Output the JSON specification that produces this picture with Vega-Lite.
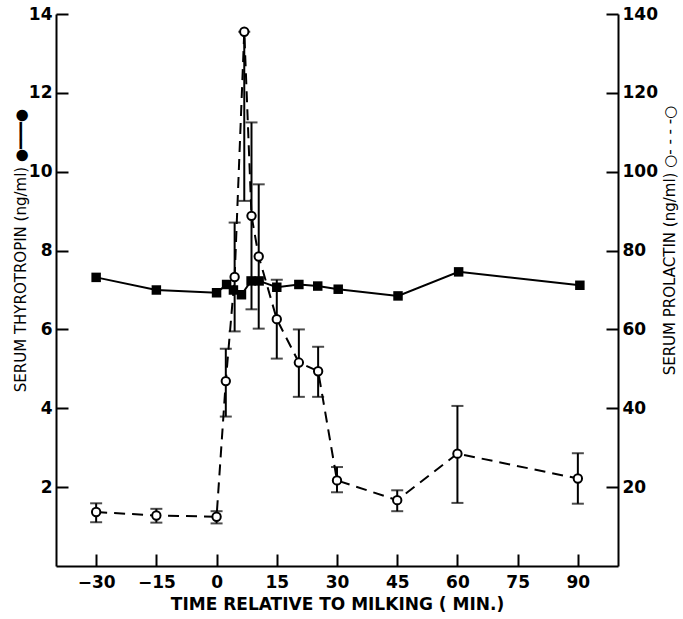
{
  "$schema": "https://vega.github.io/schema/vega-lite/v6.json",
  "width": 562,
  "height": 552,
  "autosize": {"type": "none"},
  "padding": {"left": 56, "top": 14, "right": 65, "bottom": 53},
  "background": "white",
  "config": {
    "view": {"stroke": null},
    "font": "DejaVu Sans",
    "axis": {
      "grid": false,
      "domainColor": "black",
      "domainWidth": 2,
      "tickColor": "black",
      "tickWidth": 2,
      "tickSize": -12,
      "labelPadding": 16,
      "labelFont": "DejaVu Sans",
      "labelFontSize": 17,
      "labelFontWeight": "bold",
      "labelColor": "black",
      "titleFont": "DejaVu Sans",
      "titleColor": "black",
      "titleFontWeight": "normal"
    }
  },
  "datasets": {
    "tsh": [
      {"t": -30, "tsh": 7.32},
      {"t": -15, "tsh": 7.0},
      {"t": 0, "tsh": 6.93},
      {"t": 2.5, "tsh": 7.14},
      {"t": 4.2, "tsh": 7.0},
      {"t": 6.2, "tsh": 6.88},
      {"t": 8.6, "tsh": 7.23},
      {"t": 10.6, "tsh": 7.23},
      {"t": 15, "tsh": 7.07},
      {"t": 20.5, "tsh": 7.14},
      {"t": 25.2, "tsh": 7.1},
      {"t": 30.3, "tsh": 7.02},
      {"t": 45.2, "tsh": 6.85},
      {"t": 60.3, "tsh": 7.46},
      {"t": 90.5, "tsh": 7.12}
    ],
    "prl": [
      {"t": -30, "prl": 13.7, "lo": 11.1, "hi": 15.9},
      {"t": -15, "prl": 12.8, "lo": 11.0, "hi": 14.5},
      {"t": 0, "prl": 12.5, "lo": 10.8, "hi": 13.9},
      {"t": 2.3, "prl": 46.9, "lo": 37.9, "hi": 55.1},
      {"t": 4.5, "prl": 73.3, "lo": 59.5, "hi": 87.1},
      {"t": 6.9, "prl": 135.5, "lo": 92.6, "hi": 135.5},
      {"t": 8.7, "prl": 88.8, "lo": 65.1, "hi": 112.5},
      {"t": 10.5, "prl": 78.5, "lo": 60.2, "hi": 96.8},
      {"t": 15, "prl": 62.6, "lo": 52.6, "hi": 72.6},
      {"t": 20.5, "prl": 51.6, "lo": 42.9, "hi": 60.0},
      {"t": 25.3, "prl": 49.4, "lo": 42.9, "hi": 55.6},
      {"t": 30, "prl": 21.7, "lo": 18.7, "hi": 25.1},
      {"t": 45, "prl": 16.7, "lo": 13.9, "hi": 19.2},
      {"t": 60, "prl": 28.5, "lo": 16.0, "hi": 40.6},
      {"t": 90, "prl": 22.2, "lo": 15.8, "hi": 28.6}
    ]
  },
  "layer": [
    {
      "data": {"name": "tsh"},
      "encoding": {
        "x": {
          "field": "t",
          "type": "quantitative",
          "scale": {"domain": [-40, 100], "nice": false, "zero": false},
          "axis": {
            "values": [-30, -15, 0, 15, 30, 45, 60, 75, 90],
            "title": "TIME RELATIVE TO MILKING ( MIN.)",
            "labelPadding": 20,
            "titleFontSize": 17,
            "titleFontWeight": "bold",
            "titlePadding": 6
          }
        },
        "y": {
          "field": "tsh",
          "type": "quantitative",
          "scale": {"domain": [0, 14], "nice": false},
          "axis": {
            "orient": "left",
            "values": [2, 4, 6, 8, 10, 12, 14],
            "title": "SERUM THYROTROPIN (ng/ml)    ●━━━●",
            "titleFontSize": 15,
            "titlePadding": 0,
            "titleY": 236
          }
        }
      },
      "layer": [
        {"mark": {"type": "line", "color": "black", "strokeWidth": 2}},
        {"mark": {"type": "point", "shape": "square", "filled": true, "color": "black", "size": 90, "opacity": 1}}
      ]
    },
    {
      "data": {"name": "prl"},
      "encoding": {
        "x": {"field": "t", "type": "quantitative"}
      },
      "layer": [
        {
          "mark": {"type": "line", "color": "black", "strokeWidth": 2, "strokeDash": [11, 7]},
          "encoding": {
            "y": {
              "field": "prl",
              "type": "quantitative",
              "scale": {"domain": [0, 140], "nice": false},
              "axis": {
                "orient": "right",
                "values": [20, 40, 60, 80, 100, 120, 140],
                "title": "SERUM PROLACTIN (ng/ml)    ○- - - -○",
                "titleFontSize": 15,
                "titleAngle": 270,
                "titlePadding": 20,
                "titleY": 226
              }
            }
          }
        },
        {
          "mark": {"type": "errorbar", "color": "black", "thickness": 2, "ticks": {"size": 12, "color": "black"}, "rule": {"color": "black"}},
          "encoding": {
            "y": {"field": "lo", "type": "quantitative", "title": "SERUM PROLACTIN (ng/ml)    ○- - - -○"},
            "y2": {"field": "hi"}
          }
        },
        {
          "mark": {"type": "point", "shape": "circle", "filled": true, "fill": "white", "stroke": "black", "strokeWidth": 2, "size": 70, "opacity": 1},
          "encoding": {
            "y": {"field": "prl", "type": "quantitative", "title": "SERUM PROLACTIN (ng/ml)    ○- - - -○"}
          }
        }
      ]
    }
  ],
  "resolve": {"scale": {"y": "independent"}}
}
